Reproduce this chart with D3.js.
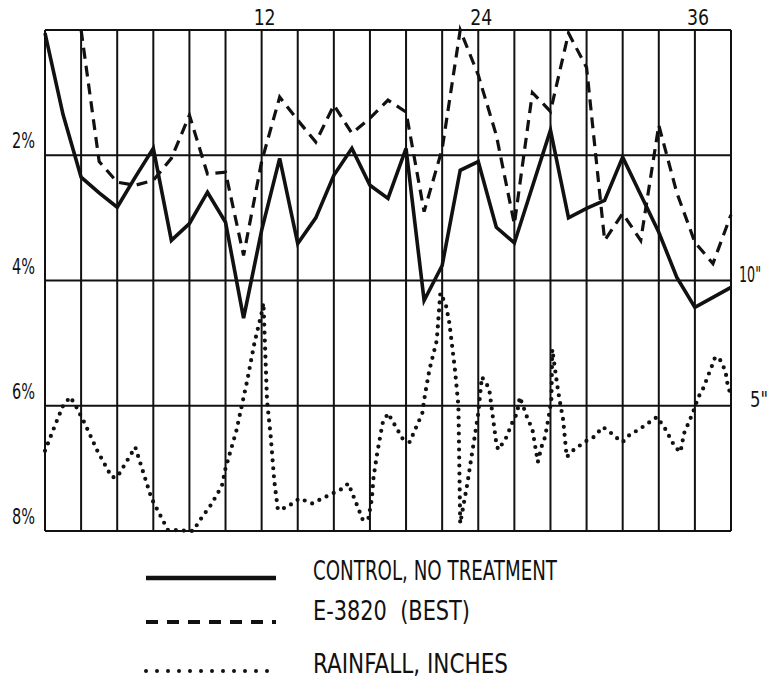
<!DOCTYPE html>
<html>
<head>
<meta charset="utf-8">
<script src="https://cdnjs.cloudflare.com/ajax/libs/d3/7.8.5/d3.min.js"></script>
<style>
    body { margin: 0; background: #fff; }
    text { font-family: "DejaVu Sans Condensed", "Liberation Sans Narrow", "DejaVu Sans", sans-serif; font-stretch: condensed; fill: #111; white-space: pre; }
</style>
</head>
<body>
<div id="chart"></div>
<script>
// months along the bottom, 0..38, grid every 2 months
const months = d3.range(0, 39);
const gridMonths = d3.range(0, 39, 2);
const topLabels = [12, 24, 36];

// percent axis (0 at top), rainfall axis in inches (0 at bottom)
const pctTicks = [2, 4, 6, 8];
const rainTicks = [5, 10];

// CONTROL, NO TREATMENT (%), one value per month
const control = [
    0.05, 1.35, 2.35, 2.6, 2.83, 2.35, 1.89, 3.36, 3.09, 2.59,
    3.07, 4.6, 3.2, 2.05, 3.41, 3.0, 2.32, 1.89, 2.48, 2.69,
    1.89, 4.32, 3.76, 2.24, 2.1, 3.15, 3.4, 2.5, 1.6, 3.0,
    2.85, 2.72, 2.03, 2.63, 3.23, 3.95, 4.43, 4.27, 4.11
];

// E-3820 (BEST) (%), starts at month 2
const bestMonths = d3.range(2, 39);
const best = [
    0.0, 2.1, 2.43, 2.48, 2.4, 2.05, 1.36, 2.3, 2.27,
    3.6, 2.1, 1.07, 1.44, 1.79, 1.2, 1.65, 1.41, 1.12, 1.31,
    2.9, 1.9, 0.0, 0.72, 1.68, 3.1, 1.0, 1.3, 0.05, 0.6,
    3.36, 2.93, 3.36, 1.52, 2.6, 3.39, 3.73, 2.95
];

// RAINFALL, INCHES, read at finer steps
const rainMonth = [
    0.0, 0.6, 1.0, 1.4, 1.7, 2.2, 2.9, 3.7, 4.0, 5.0,
    5.9, 6.8, 8.2, 8.6, 9.2, 9.8, 10.0, 10.6, 10.9, 11.2,
    11.6, 12.0, 12.1, 12.3, 12.5, 12.7, 12.9, 13.4, 14.1, 14.8,
    16.5, 16.8, 17.3, 17.6, 17.9, 18.1, 18.2, 18.4, 18.7, 19.0,
    19.8, 20.2, 20.9, 21.05, 21.3, 21.7, 21.9, 22.2, 22.4, 22.7,
    22.9, 23.0, 23.4, 23.6, 23.8, 24.0, 24.2, 24.6, 25.0, 25.1,
    25.5, 25.9, 26.15, 26.3, 26.7, 27.0, 27.3, 27.5, 27.7, 27.9,
    28.05, 28.1, 28.4, 28.5, 28.7, 28.9, 29.3, 29.8, 30.1, 30.4,
    30.9, 31.3, 31.6, 32.0, 32.4, 32.9, 33.4, 33.9, 34.3, 34.6,
    34.9, 35.2, 35.4, 35.7, 35.9, 36.2, 36.5, 36.7, 36.9, 37.1,
    37.3, 37.5, 37.7, 37.8, 37.95
];
const rainInches = [
    3.2, 4.3, 5.0, 5.35, 5.0, 4.3, 3.2, 2.15, 2.15, 3.35,
    1.3, 0.05, 0.0, 0.45, 1.05, 1.8, 2.5, 4.0, 5.0, 6.0,
    7.5, 8.7, 9.1, 5.2, 3.8, 2.0, 0.85, 0.95, 1.3, 1.1,
    1.7, 1.9, 1.0, 0.45, 0.45, 1.25, 2.15, 3.1, 4.3, 4.7,
    3.7, 3.55, 4.7, 5.45, 6.45, 7.6, 9.5, 9.05, 8.3, 6.5,
    5.0, 0.3, 1.9, 2.85, 3.75, 4.7, 6.15, 5.7, 3.5, 3.25,
    3.65, 4.35, 4.7, 5.35, 4.55, 4.05, 2.75, 3.35, 3.75, 4.55,
    5.25, 7.25, 5.7, 5.25, 4.45, 2.95, 3.25, 3.5, 3.65, 3.75,
    4.15, 3.95, 3.75, 3.55, 3.85, 4.05, 4.3, 4.55, 4.15, 3.75,
    3.35, 3.15, 3.9, 4.4, 4.75, 5.35, 5.75, 6.15, 6.5, 6.9,
    6.95, 6.7, 6.35, 5.9, 5.5
];

const legendLabels = ["CONTROL, NO TREATMENT", "E-3820  (BEST)", "RAINFALL, INCHES"];

const width = 776;
const height = 680;

const x = d3.scaleLinear().domain([0, 38]).range([45, 731]);
const y = d3.scaleLinear().domain([0, 8]).range([30, 531]);
const yRain = d3.scaleLinear().domain([0, 20]).range([531, 30]);

const svg = d3
    .select("#chart")
    .append("svg")
    .attr("width", width)
    .attr("height", height);

// grid: vertical month lines
svg.append("g")
    .selectAll("line")
    .data(gridMonths)
    .enter()
    .append("line")
    .attr("x1", (d) => x(d))
    .attr("x2", (d) => x(d))
    .attr("y1", y(0))
    .attr("y2", y(8))
    .style("stroke", "#111")
    .style("stroke-width", 2);

// grid: horizontal percent lines (plus top border)
svg.append("g")
    .selectAll("line")
    .data([0].concat(pctTicks))
    .enter()
    .append("line")
    .attr("x1", x(0))
    .attr("x2", x(38))
    .attr("y1", (d) => y(d))
    .attr("y2", (d) => y(d))
    .style("stroke", "#111")
    .style("stroke-width", 2.2);

// left labels
svg.append("g")
    .selectAll("text")
    .data(pctTicks)
    .enter()
    .append("text")
    .attr("x", 12)
    .attr("y", (d) => y(d) - 7)
    .attr("textLength", 23)
    .attr("lengthAdjust", "spacingAndGlyphs")
    .style("font-size", "21px")
    .text((d) => `${d}%`);

// right labels (inches)
svg.append("g")
    .selectAll("text")
    .data(rainTicks)
    .enter()
    .append("text")
    .attr("x", (d) => (d === 10 ? 739 : 750))
    .attr("y", (d) => yRain(d) + 1)
    .attr("textLength", (d) => (d === 10 ? 22 : 18))
    .attr("lengthAdjust", "spacingAndGlyphs")
    .style("font-size", "21px")
    .text((d) => `${d}"`);

// top labels
svg.append("g")
    .selectAll("text")
    .data(topLabels)
    .enter()
    .append("text")
    .attr("x", (d) => x(d) - 8)
    .attr("y", 25)
    .attr("textLength", 22)
    .attr("lengthAdjust", "spacingAndGlyphs")
    .style("font-size", "21px")
    .text((d) => d);

const line = d3.line().curve(d3.curveLinear);

svg.append("path")
    .attr("d", line(rainMonth.map((m, i) => [x(m), yRain(rainInches[i])])))
    .style("fill", "none")
    .style("stroke", "#111")
    .style("stroke-width", 4.2)
    .style("stroke-linecap", "round")
    .style("stroke-dasharray", "0 8");

svg.append("path")
    .attr("d", line(bestMonths.map((m, i) => [x(m), y(best[i])])))
    .style("fill", "none")
    .style("stroke", "#111")
    .style("stroke-width", 3.2)
    .style("stroke-dasharray", "11 7");

svg.append("path")
    .attr("d", line(months.map((m) => [x(m), y(control[m])])))
    .style("fill", "none")
    .style("stroke", "#111")
    .style("stroke-width", 3.6)
    .style("stroke-linejoin", "miter");

// legend
const legendY = [578, 622, 671];
const legendTextY = [580, 620, 673];
const legendWidths = [244, 157, 195];
const legendDash = [null, "12 9", "0 11"];

const legend = svg.append("g");

legend.selectAll("line")
    .data(legendLabels)
    .enter()
    .append("line")
    .attr("x1", 146)
    .attr("x2", 276)
    .attr("y1", (d, i) => legendY[i])
    .attr("y2", (d, i) => legendY[i])
    .style("stroke", "#111")
    .style("stroke-width", (d, i) => (i === 0 ? 4.5 : 4))
    .style("stroke-linecap", (d, i) => (i === 2 ? "round" : "butt"))
    .style("stroke-dasharray", (d, i) => legendDash[i]);

legend.selectAll("text")
    .data(legendLabels)
    .enter()
    .append("text")
    .attr("x", 313)
    .attr("y", (d, i) => legendTextY[i])
    .attr("textLength", (d, i) => legendWidths[i])
    .attr("lengthAdjust", "spacingAndGlyphs")
    .style("font-size", "27px")
    .text((d) => d);
</script>
</body>
</html>
